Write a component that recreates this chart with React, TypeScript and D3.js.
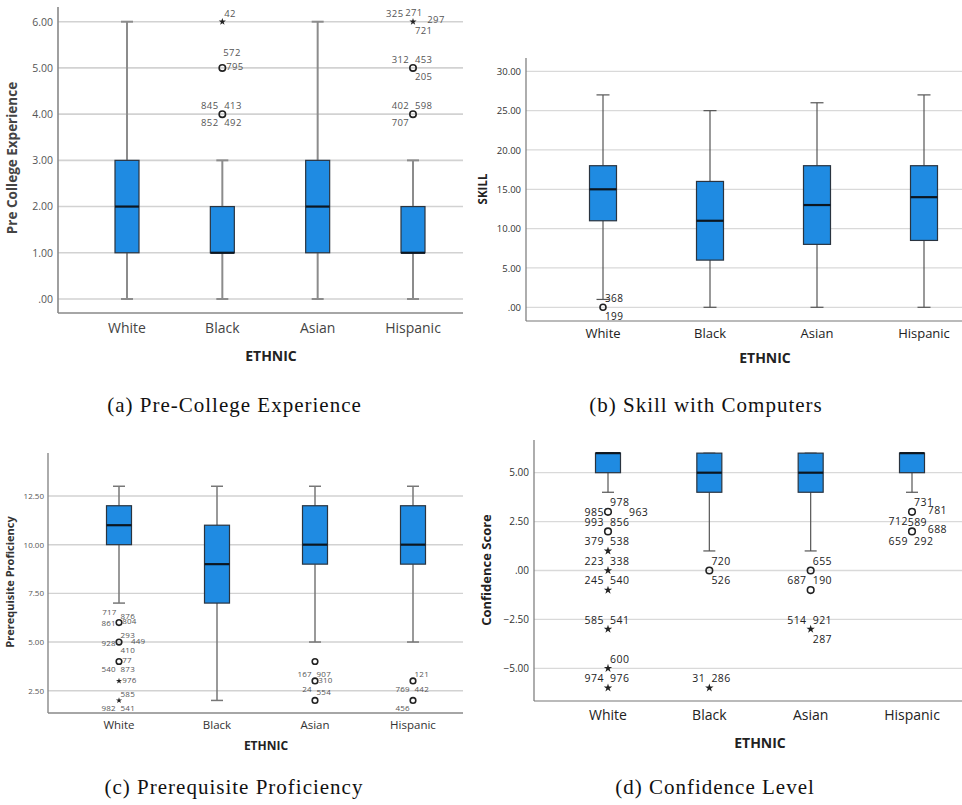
import React, {useRef, useEffect} from 'react'
import * as d3 from 'd3'

const categories = ['White', 'Black', 'Asian', 'Hispanic']

// [lower whisker, Q1, median, Q3, upper whisker] per category
const preCollegeBoxes = [
  [0, 1, 2, 3, 6],
  [0, 1, 1, 2, 3],
  [0, 1, 2, 3, 6],
  [0, 1, 1, 2, 3],
]
const skillBoxes = [
  [1, 11, 15, 18, 27],
  [0, 6, 11, 16, 25],
  [0, 8, 13, 18, 26],
  [0, 8.5, 14, 18, 27],
]
const prereqBoxes = [
  [7, 10, 11, 12, 13],
  [2, 7, 9, 11, 13],
  [5, 9, 10, 12, 13],
  [5, 9, 10, 12, 13],
]
const confidenceBoxes = [
  [4, 5, 6, 6, 6],
  [1, 4, 5, 6, 6],
  [1, 4, 5, 6, 6],
  [4, 5, 6, 6, 6],
]

const preCollegeTicks = [0, 1, 2, 3, 4, 5, 6]
const skillTicks = [0, 5, 10, 15, 20, 25, 30]
const prereqTicks = [2.5, 5, 7.5, 10, 12.5]
const confidenceTicks = [-5, -2.5, 0, 2.5, 5]

// [category, value, marker, [case id, label spot]]
type Outlier = [string, number, 'circle' | 'star', [string, string][]]

const preCollegeOutliers: Outlier[] = [
  ['Black', 6, 'star', [['42', 'ne']]],
  ['Black', 5, 'circle', [['572', 'nn'], ['795', 'e']]],
  ['Black', 4, 'circle', [['845', 'nw'], ['413', 'ne'], ['852', 'sw'], ['492', 'se']]],
  ['Hispanic', 6, 'star', [['325', 'nw2'], ['271', 'n'], ['297', 'e2'], ['721', 'se']]],
  ['Hispanic', 5, 'circle', [['312', 'nw'], ['453', 'ne'], ['205', 'se']]],
  ['Hispanic', 4, 'circle', [['402', 'nw'], ['598', 'ne'], ['707', 'sw']]],
]
const skillOutliers: Outlier[] = [
  ['White', 0, 'circle', [['368', 'ne'], ['199', 'se']]],
]
const prereqOutliers: Outlier[] = [
  ['White', 6, 'circle', [['717', 'nnw'], ['876', 'ne'], ['861', 'w'], ['804', 'e']]],
  ['White', 5, 'circle', [['293', 'ne'], ['928', 'w'], ['410', 'se'], ['449', 'e2']]],
  ['White', 4, 'circle', [['77', 'e'], ['540', 'sw'], ['873', 'se']]],
  ['White', 3, 'star', [['976', 'e']]],
  ['White', 2, 'star', [['585', 'ne'], ['982', 'sw'], ['541', 'se']]],
  ['Asian', 4, 'circle', []],
  ['Asian', 3, 'circle', [['167', 'nw'], ['907', 'ne'], ['310', 'e'], ['24', 'sw'], ['554', 'sse']]],
  ['Asian', 2, 'circle', []],
  ['Hispanic', 3, 'circle', [['121', 'ne'], ['769', 'sw'], ['442', 'se']]],
  ['Hispanic', 2, 'circle', [['456', 'sw']]],
]
const confidenceOutliers: Outlier[] = [
  ['White', 3, 'circle', [['978', 'ne'], ['985', 'w'], ['963', 'e3']]],
  ['White', 2, 'circle', [['993', 'nw'], ['856', 'ne'], ['379', 'sw'], ['538', 'se']]],
  ['White', 1, 'star', []],
  ['White', 0, 'star', [['223', 'nw'], ['338', 'ne'], ['245', 'sw'], ['540', 'se']]],
  ['White', -1, 'star', []],
  ['White', -3, 'star', [['585', 'nw'], ['541', 'ne']]],
  ['White', -5, 'star', [['600', 'ne']]],
  ['White', -6, 'star', [['974', 'nw'], ['976', 'ne']]],
  ['Black', 0, 'circle', [['720', 'ne'], ['526', 'se']]],
  ['Black', -6, 'star', [['31', 'nw'], ['286', 'ne']]],
  ['Asian', 0, 'circle', [['655', 'ne'], ['687', 'sw'], ['190', 'se']]],
  ['Asian', -1, 'circle', []],
  ['Asian', -3, 'star', [['514', 'nw'], ['921', 'ne'], ['287', 'se']]],
  ['Hispanic', 3, 'circle', [['731', 'ne'], ['781', 'e2'], ['712', 'sw'], ['589', 's']]],
  ['Hispanic', 2, 'circle', [['688', 'e2'], ['659', 'sw'], ['292', 'se']]],
]

// label spot -> [anchor, dx, dy] (for a 10px label)
const SPOT: Record<string, [string, number, number]> = {
  nw: ['end', -4, -9],
  nw2: ['end', -10, -9],
  nnw: ['end', -3, -14],
  n: ['middle', 1, -10],
  nn: ['start', 1, -16],
  ne: ['start', 2, -9],
  e: ['start', 4, -2],
  e2: ['start', 15, -2],
  e3: ['start', 20, 0],
  w: ['end', -4, 0],
  sw: ['end', -4, 9],
  s: ['start', -4, 10],
  se: ['start', 2, 9],
  sse: ['start', 2, 13],
}

const FONT = "'Open Sans', 'Liberation Sans', sans-serif"
const SERIF = "'Liberation Serif', serif"

const panels = [
  {
    boxes: preCollegeBoxes, outliers: preCollegeOutliers, ticks: preCollegeTicks,
    yTitle: 'Pre College Experience', caption: '(a) Pre-College Experience',
    left: 58, right: 463, top: 7, bottom: 313, yRange: [299, 21.7], xRange: [127, 413],
    boxW: 24, capW: 12, tickRight: 53, tickSize: 10.5, tickColor: '#555',
    gridColor: '#d2d2d2', gridW: 1.6, whiskerColor: '#8c8c8c', whiskerW: 2,
    axisColor: '#888', axisW: 1.6, catY: 327, catSize: 14, catColor: '#444',
    xTitlePos: [271, 355], xTitleSize: 14, yTitlePos: [12, 158], yTitleSize: 13.5, yTitleColor: '#444',
    labelSize: 9.5, labelColor: '#555', labelSpacing: 0.4, markR: 3.2, starSize: 16, captionPos: [234.5, 405],
  },
  {
    boxes: skillBoxes, outliers: skillOutliers, ticks: skillTicks,
    yTitle: 'SKILL', caption: '(b) Skill with Computers',
    left: 526, right: 962, top: 58, bottom: 321, yRange: [307.3, 71.3], xRange: [603, 924],
    boxW: 27, capW: 13, tickRight: 521, tickSize: 9.5, tickColor: '#333',
    gridColor: '#d9d9d9', gridW: 1.3, whiskerColor: '#555', whiskerW: 1.2,
    axisColor: '#777', axisW: 1.2, catY: 333, catSize: 13, catColor: '#222',
    xTitlePos: [765, 357], xTitleSize: 14, yTitlePos: [482, 189], yTitleSize: 11.5, yTitleColor: '#222',
    labelSize: 10, labelColor: '#222', labelSpacing: 0.4, markR: 3, starSize: 20, captionPos: [706, 405],
  },
  {
    boxes: prereqBoxes, outliers: prereqOutliers, ticks: prereqTicks,
    yTitle: 'Prerequisite Proficiency', caption: '(c) Prerequisite Proficiency',
    left: 48, right: 463, top: 453, bottom: 713, yRange: [690.7, 496], xRange: [119, 413],
    boxW: 25, capW: 12, tickRight: 44, tickSize: 8, tickColor: '#555',
    gridColor: '#d2d2d2', gridW: 1.4, whiskerColor: '#777', whiskerW: 1.5,
    axisColor: '#888', axisW: 1.4, catY: 724, catSize: 11.5, catColor: '#333',
    xTitlePos: [266, 745], xTitleSize: 12, yTitlePos: [9, 582], yTitleSize: 11, yTitleColor: '#333',
    labelSize: 8, labelColor: '#555', labelSpacing: 0.2, markR: 2.8, starSize: 12, captionPos: [234, 787],
  },
  {
    boxes: confidenceBoxes, outliers: confidenceOutliers, ticks: confidenceTicks,
    yTitle: 'Confidence Score', caption: '(d) Confidence Level',
    left: 534, right: 962, top: 440, bottom: 701, yRange: [668.3, 472.7], xRange: [608, 912],
    boxW: 25, capW: 12, tickRight: 529, tickSize: 10, tickColor: '#333',
    gridColor: '#d9d9d9', gridW: 1.3, whiskerColor: '#555', whiskerW: 1.2,
    axisColor: '#777', axisW: 1.2, catY: 714, catSize: 14, catColor: '#222',
    xTitlePos: [760, 742], xTitleSize: 14, yTitlePos: [486, 570], yTitleSize: 13, yTitleColor: '#222',
    labelSize: 10.5, labelColor: '#222', labelSpacing: 0.4, markR: 3.3, starSize: 22, captionPos: [715, 787],
  },
]

const fmt = (v: number) => d3.format('.2f')(v).replace(/^(-?)0\./, '$1.')

function drawPanel(svg: any, p: any) {
  const g = svg.append('g')
  const y = d3.scaleLinear()
    .domain([p.ticks[0], p.ticks[p.ticks.length - 1]])
    .range(p.yRange)
  const x: any = d3.scalePoint().domain(categories).range(p.xRange)

  // grid
  g.selectAll('.grid')
    .data(p.ticks)
    .join('line')
    .attr('x1', p.left)
    .attr('x2', p.right)
    .attr('y1', (d: number) => y(d))
    .attr('y2', (d: number) => y(d))
    .attr('stroke', p.gridColor)
    .attr('stroke-width', p.gridW)

  // y tick labels
  const yAxis: any = d3.axisLeft(y)
    .tickValues(p.ticks)
    .tickSize(0)
    .tickPadding(p.left - p.tickRight)
    .tickFormat(fmt as any)
  const ag = g.append('g').attr('transform', `translate(${p.left},0)`).call(yAxis)
  ag.select('.domain').remove()
  ag.selectAll('text')
    .attr('font-family', FONT)
    .attr('font-size', p.tickSize)
    .attr('fill', p.tickColor)

  // axis lines
  g.append('line')
    .attr('x1', p.left).attr('x2', p.left).attr('y1', p.top).attr('y2', p.bottom)
    .attr('stroke', p.axisColor).attr('stroke-width', p.axisW)
  g.append('line')
    .attr('x1', p.left).attr('x2', p.right).attr('y1', p.bottom).attr('y2', p.bottom)
    .attr('stroke', p.axisColor).attr('stroke-width', p.axisW)

  // category labels
  g.selectAll('.cat')
    .data(categories)
    .join('text')
    .attr('x', (d: string) => x(d))
    .attr('y', p.catY)
    .attr('dominant-baseline', 'central')
    .attr('text-anchor', 'middle')
    .attr('font-family', FONT)
    .attr('font-size', p.catSize)
    .attr('font-weight', 500)
    .attr('fill', p.catColor)
    .text((d: string) => d)

  // boxes
  p.boxes.forEach((b: number[], i: number) => {
    const cx = x(categories[i])
    const [lo, q1, med, q3, hi] = b
    const bg = g.append('g')
    bg.append('line')
      .attr('x1', cx).attr('x2', cx).attr('y1', y(lo)).attr('y2', y(q1))
      .attr('stroke', p.whiskerColor).attr('stroke-width', p.whiskerW)
    bg.append('line')
      .attr('x1', cx).attr('x2', cx).attr('y1', y(q3)).attr('y2', y(hi))
      .attr('stroke', p.whiskerColor).attr('stroke-width', p.whiskerW)
    ;[lo, hi].forEach((v) => {
      bg.append('line')
        .attr('x1', cx - p.capW / 2).attr('x2', cx + p.capW / 2)
        .attr('y1', y(v)).attr('y2', y(v))
        .attr('stroke', p.whiskerColor).attr('stroke-width', p.whiskerW)
    })
    bg.append('rect')
      .attr('x', cx - p.boxW / 2)
      .attr('y', y(q3))
      .attr('width', p.boxW)
      .attr('height', y(q1) - y(q3))
      .attr('fill', '#1f8be2')
      .attr('stroke', '#2a3440')
      .attr('stroke-width', 1.2)
    bg.append('line')
      .attr('x1', cx - p.boxW / 2).attr('x2', cx + p.boxW / 2)
      .attr('y1', y(med)).attr('y2', y(med))
      .attr('stroke', '#0c1620').attr('stroke-width', 2.2)
  })

  // outliers
  const star = d3.symbol().type(d3.symbolStar).size(p.starSize)
  const s = p.labelSize / 10
  p.outliers.forEach(([cat, v, kind, labels]: Outlier) => {
    const cx = x(cat)
    const cy = y(v)
    if (kind === 'circle') {
      g.append('circle')
        .attr('cx', cx).attr('cy', cy).attr('r', p.markR)
        .attr('fill', 'none').attr('stroke', '#222').attr('stroke-width', 1.6)
    } else {
      g.append('path')
        .attr('d', star() as string)
        .attr('transform', `translate(${cx},${cy})`)
        .attr('fill', '#222')
    }
    labels.forEach(([id, spot]) => {
      const [anchor, dx, dy] = SPOT[spot]
      g.append('text')
        .attr('x', cx + dx * s)
        .attr('y', cy + dy * s)
        .attr('dominant-baseline', 'central')
        .attr('text-anchor', anchor)
        .attr('font-family', FONT)
        .attr('font-size', p.labelSize)
        .attr('letter-spacing', p.labelSpacing)
        .attr('fill', p.labelColor)
        .text(id)
    })
  })

  // titles
  g.append('text')
    .attr('x', p.xTitlePos[0])
    .attr('y', p.xTitlePos[1])
    .attr('dominant-baseline', 'central')
    .attr('text-anchor', 'middle')
    .attr('font-family', FONT)
    .attr('font-size', p.xTitleSize)
    .attr('font-weight', 700)
    .attr('fill', '#222')
    .text('ETHNIC')
  g.append('text')
    .attr('transform', `translate(${p.yTitlePos[0]},${p.yTitlePos[1]}) rotate(-90)`)
    .attr('dominant-baseline', 'central')
    .attr('text-anchor', 'middle')
    .attr('font-family', FONT)
    .attr('font-size', p.yTitleSize)
    .attr('font-weight', 700)
    .attr('fill', p.yTitleColor)
    .text(p.yTitle)

  // caption
  g.append('text')
    .attr('x', p.captionPos[0])
    .attr('y', p.captionPos[1])
    .attr('dominant-baseline', 'central')
    .attr('text-anchor', 'middle')
    .attr('font-family', SERIF)
    .attr('font-size', 21)
    .attr('letter-spacing', 1)
    .attr('fill', '#111')
    .text(p.caption)
}

function App() {
  const ref: any = useRef<SVGSVGElement>(null)

  useEffect(() => {
    const svg = d3.select(ref.current)
    svg.selectAll('*').remove()
    panels.forEach((p) => drawPanel(svg, p))
  }, [])

  return (
    <svg
      ref={ref}
      width={962}
      height={805}
      style={{position: 'absolute', left: 0, top: 0, background: '#fff'}}
    />
  )
}

export default App
